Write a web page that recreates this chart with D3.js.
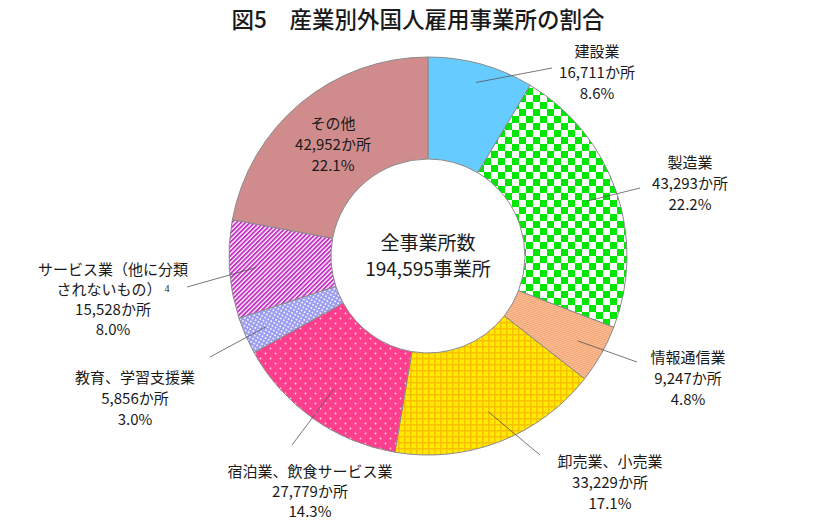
<!DOCTYPE html>
<html><head><meta charset="utf-8">
<script src="https://cdn.jsdelivr.net/npm/d3@7/dist/d3.min.js"></script>
<style>
body{margin:0;background:#fff;}
text{font-family:"Noto Sans CJK JP","Noto Sans",sans-serif;fill:#1a1a1a;}
</style></head><body>
<svg id="c" width="820" height="523"></svg>
<script>
const title = "図5　産業別外国人雇用事業所の割合";
const categories = ["建設業","製造業","情報通信業","卸売業、小売業","宿泊業、飲食サービス業","教育、学習支援業","サービス業（他に分類されないもの）","その他"];
const counts = [16711,43293,9247,33229,27779,5856,15528,42952];
const percents = ["8.6%","22.2%","4.8%","17.1%","14.3%","3.0%","8.0%","22.1%"];
const labelLines = [
  ["建設業"],["製造業"],["情報通信業"],["卸売業、小売業"],["宿泊業、飲食サービス業"],
  ["教育、学習支援業"],["サービス業（他に分類","されないもの）"],["その他"]];
const totalLabel = ["全事業所数","194,595事業所"];

// layout (label anchor positions, leader-line end points)
const labelPos = [
  {x:597,y:52,lx:552,ly:68},
  {x:690,y:163,lx:640,ly:188},
  {x:688,y:358,lx:637,ly:362},
  {x:610,y:462,lx:540,ly:455},
  {x:310,y:472,lx:292,ly:445},
  {x:135,y:378,lx:210,ly:357},
  {x:113,y:270,lx:187,ly:287},
  {x:333,y:124,inside:true}
];
const fills = ["#66CCFF","url(#pChk)","url(#pOr)","url(#pYel)","url(#pPink)","url(#pEdu)","url(#pSvc)","#D08C8C"];

const svg = d3.select("#c");
const defs = svg.append("defs");
// checker
let p = defs.append("pattern").attr("id","pChk").attr("patternUnits","userSpaceOnUse").attr("width",14).attr("height",14);
p.append("rect").attr("width",14).attr("height",14).attr("fill","#fff");
p.append("rect").attr("width",7).attr("height",7).attr("fill","#00E600");
p.append("rect").attr("x",7).attr("y",7).attr("width",7).attr("height",7).attr("fill","#00E600");
// orange fine lines
p = defs.append("pattern").attr("id","pOr").attr("patternUnits","userSpaceOnUse").attr("width",2).attr("height",2).attr("patternTransform","rotate(-20)");
p.append("rect").attr("width",2).attr("height",2).attr("fill","#FBC29C");
p.append("rect").attr("width",2).attr("height",0.8).attr("fill","#F09A66");
// yellow grid
p = defs.append("pattern").attr("id","pYel").attr("patternUnits","userSpaceOnUse").attr("width",6).attr("height",6);
p.append("rect").attr("width",6).attr("height",6).attr("fill","#FFEA00");
p.append("rect").attr("width",6).attr("height",1.5).attr("fill","#F8C000");
p.append("rect").attr("width",1.5).attr("height",6).attr("fill","#F8C000");
// pink dots
p = defs.append("pattern").attr("id","pPink").attr("patternUnits","userSpaceOnUse").attr("width",10).attr("height",10);
p.append("rect").attr("width",10).attr("height",10).attr("fill","#FF3F8E");
p.append("circle").attr("cx",2.5).attr("cy",2.5).attr("r",0.9).attr("fill","#FFD0E4");
p.append("circle").attr("cx",7.5).attr("cy",7.5).attr("r",0.9).attr("fill","#FFD0E4");
// education crosshatch
p = defs.append("pattern").attr("id","pEdu").attr("patternUnits","userSpaceOnUse").attr("width",3.5).attr("height",3.5).attr("patternTransform","rotate(30)");
p.append("rect").attr("width",3.5).attr("height",3.5).attr("fill","#9C9CF2");
p.append("rect").attr("x",1).attr("y",1).attr("width",1.6).attr("height",1.6).attr("fill","#fff");
// services stripes
p = defs.append("pattern").attr("id","pSvc").attr("patternUnits","userSpaceOnUse").attr("width",3.2).attr("height",3.2).attr("patternTransform","rotate(45)");
p.append("rect").attr("width",3.2).attr("height",3.2).attr("fill","#fff");
p.append("rect").attr("width",1.9).attr("height",3.2).attr("fill","#C630C6");

svg.append("text").attr("x",418).attr("y",28).attr("text-anchor","middle")
  .style("font-size","22.5px").style("font-weight","500").text(title);

const cx = 428, cy = 256, rOut = 199, rIn = 97;
const g = svg.append("g").attr("transform",`translate(${cx},${cy})`);
const pie = d3.pie().sort(null).value(d=>d)(counts);
const arc = d3.arc().innerRadius(rIn).outerRadius(rOut);
g.selectAll("path.s").data(pie).join("path").attr("class","s")
  .attr("d",arc).attr("fill",(d,i)=>fills[i]).attr("stroke","#8a8a8a").attr("stroke-width",1);

// leader lines
const leadR = [180,168,172,167,163,177,172];
pie.forEach((d,i)=>{
  const L = labelPos[i];
  if(L.inside) return;
  const a = (d.startAngle+d.endAngle)/2;
  const x0 = cx + leadR[i]*Math.sin(a), y0 = cy - leadR[i]*Math.cos(a);
  svg.append("line").attr("x1",x0).attr("y1",y0).attr("x2",L.lx).attr("y2",L.ly)
    .attr("stroke","#555").attr("stroke-width",0.8);
});

// labels
const fmt = d3.format(",");
const lh = 21;
categories.forEach((c,i)=>{
  const L = labelPos[i];
  const lines = labelLines[i].concat([fmt(counts[i])+"か所", percents[i]]);
  const step = (i===6 || i===4) ? 20 : lh;
  lines.forEach((t,k)=>{
    const tx = svg.append("text").attr("x",L.x).attr("y",L.y+k*step).attr("dy","0.35em")
      .attr("text-anchor","middle").style("font-size","15px").text(t);
    if(i===6 && k===1){
      tx.append("tspan").attr("dx",3).attr("dy","-0.35em").style("font-size","10px")
        .style("font-family","Liberation Serif,serif").text("4");
    }
  });
});

totalLabel.forEach((t,k)=>{
  svg.append("text").attr("x",cx).attr("y",243+k*26).attr("dy","0.35em").attr("text-anchor","middle")
    .style("font-size","19px").text(t);
});
</script></body></html>
